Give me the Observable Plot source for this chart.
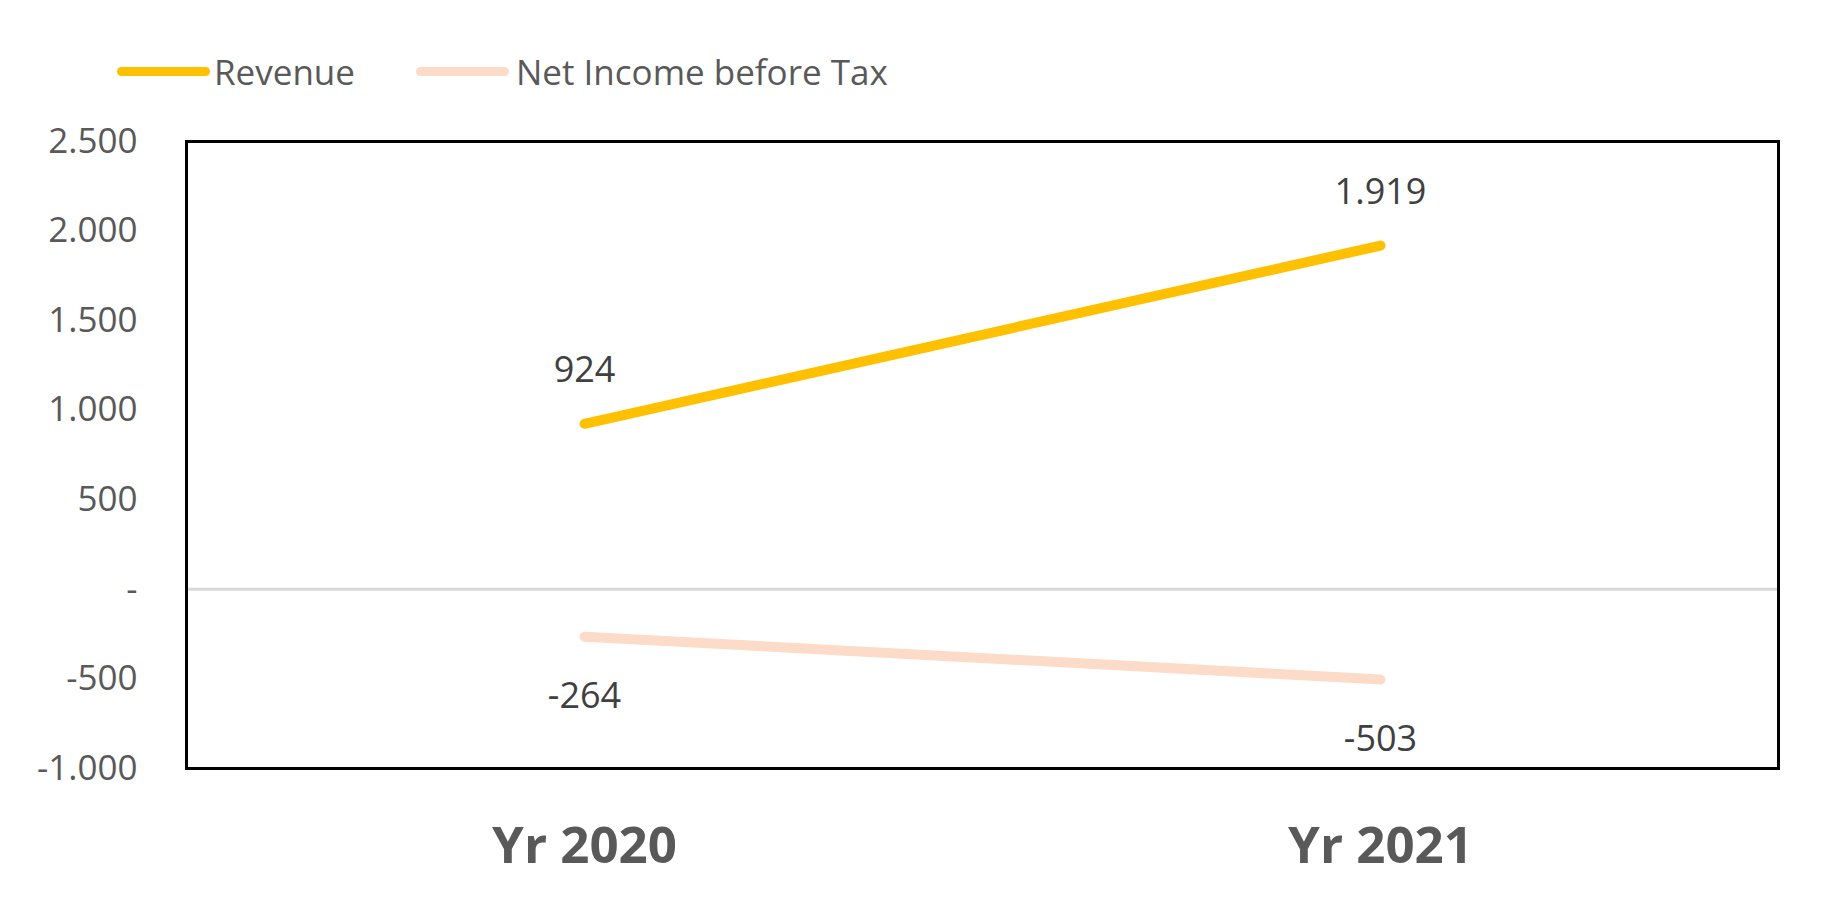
<!DOCTYPE html>
<html>
<head>
<meta charset="utf-8">
<script src="https://cdn.jsdelivr.net/npm/d3@7"></script>
<script src="https://cdn.jsdelivr.net/npm/@observablehq/plot@0.6"></script>
<style>
  html, body { margin: 0; padding: 0; background: #fff; }
  #legend { position: relative; height: 100px; width: 1829px; font-family: "Open Sans", sans-serif; font-size: 35px; color: #595959; }
  .item { position: absolute; top: 50px; display: flex; align-items: center; height: 42px; }
  .swatch { width: 93px; height: 9px; border-radius: 5px; margin-right: 4px; }
</style>
</head>
<body>
<div id="legend"></div>
<div id="chart"></div>
<script>
const years = ["Yr 2020", "Yr 2021"];
const revenue = [924, 1919];
const netIncome = [-264, -503];
const seriesNames = ["Revenue", "Net Income before Tax"];
const seriesColors = ["#FFC000", "#FCDCC8"];
const yTicks = [-1000, -500, 0, 500, 1000, 1500, 2000, 2500];

const data = [];
years.forEach((y, i) => {
  data.push({year: y, series: seriesNames[0], value: revenue[i]});
  data.push({year: y, series: seriesNames[1], value: netIncome[i]});
});

const loc = d3.formatLocale({decimal: ",", thousands: ".", grouping: [3], currency: ["", ""], minus: "-"});
const fmt = loc.format(",");
const yFmt = d => d === 0 ? "-" : fmt(d);

// legend
const legend = document.getElementById("legend");
const legendX = [117, 416];
seriesNames.forEach((name, i) => {
  const it = document.createElement("div");
  it.className = "item";
  it.style.left = legendX[i] + "px";
  const sw = document.createElement("div");
  sw.className = "swatch";
  sw.style.background = seriesColors[i];
  sw.style.marginRight = (i === 0 ? 4 : 7) + "px";
  const tx = document.createElement("span");
  tx.textContent = name;
  it.appendChild(sw); it.appendChild(tx);
  legend.appendChild(it);
});

const chart = Plot.plot({
  width: 1829,
  height: 799,
  marginTop: 41,
  marginBottom: 131,
  marginLeft: 186,
  marginRight: 51,
  style: {fontFamily: "Open Sans, sans-serif", background: "#fff"},
  x: {type: "point", domain: years, padding: 0.5},
  y: {domain: [-1000, 2500]},
  color: {domain: seriesNames, range: seriesColors},
  marks: [
    Plot.ruleY([0], {stroke: "#D9D9D9", strokeWidth: 3}),
    Plot.frame({stroke: "#000", strokeWidth: 3}),
    Plot.axisY({ticks: yTicks, tickFormat: yFmt, tickSize: 0, tickPadding: 49, fontSize: 35, fill: "#595959", label: null}),
    Plot.axisX({tickSize: 0, tickPadding: 58, fontSize: 51, fontWeight: "bold", fill: "#595959", label: null}),
    Plot.line(data, {x: "year", y: "value", z: "series", stroke: "series", strokeWidth: 10, strokeLinecap: "round"}),
    Plot.text(data.filter(d => d.series === seriesNames[0]), {x: "year", y: "value", text: d => fmt(d.value), dy: -53, fontSize: 36, fill: "#404040"}),
    Plot.text(data.filter(d => d.series === seriesNames[1]), {x: "year", y: "value", text: d => fmt(d.value), dy: 60, fontSize: 36, fill: "#404040"})
  ]
});
document.getElementById("chart").appendChild(chart);
</script>
</body>
</html>
